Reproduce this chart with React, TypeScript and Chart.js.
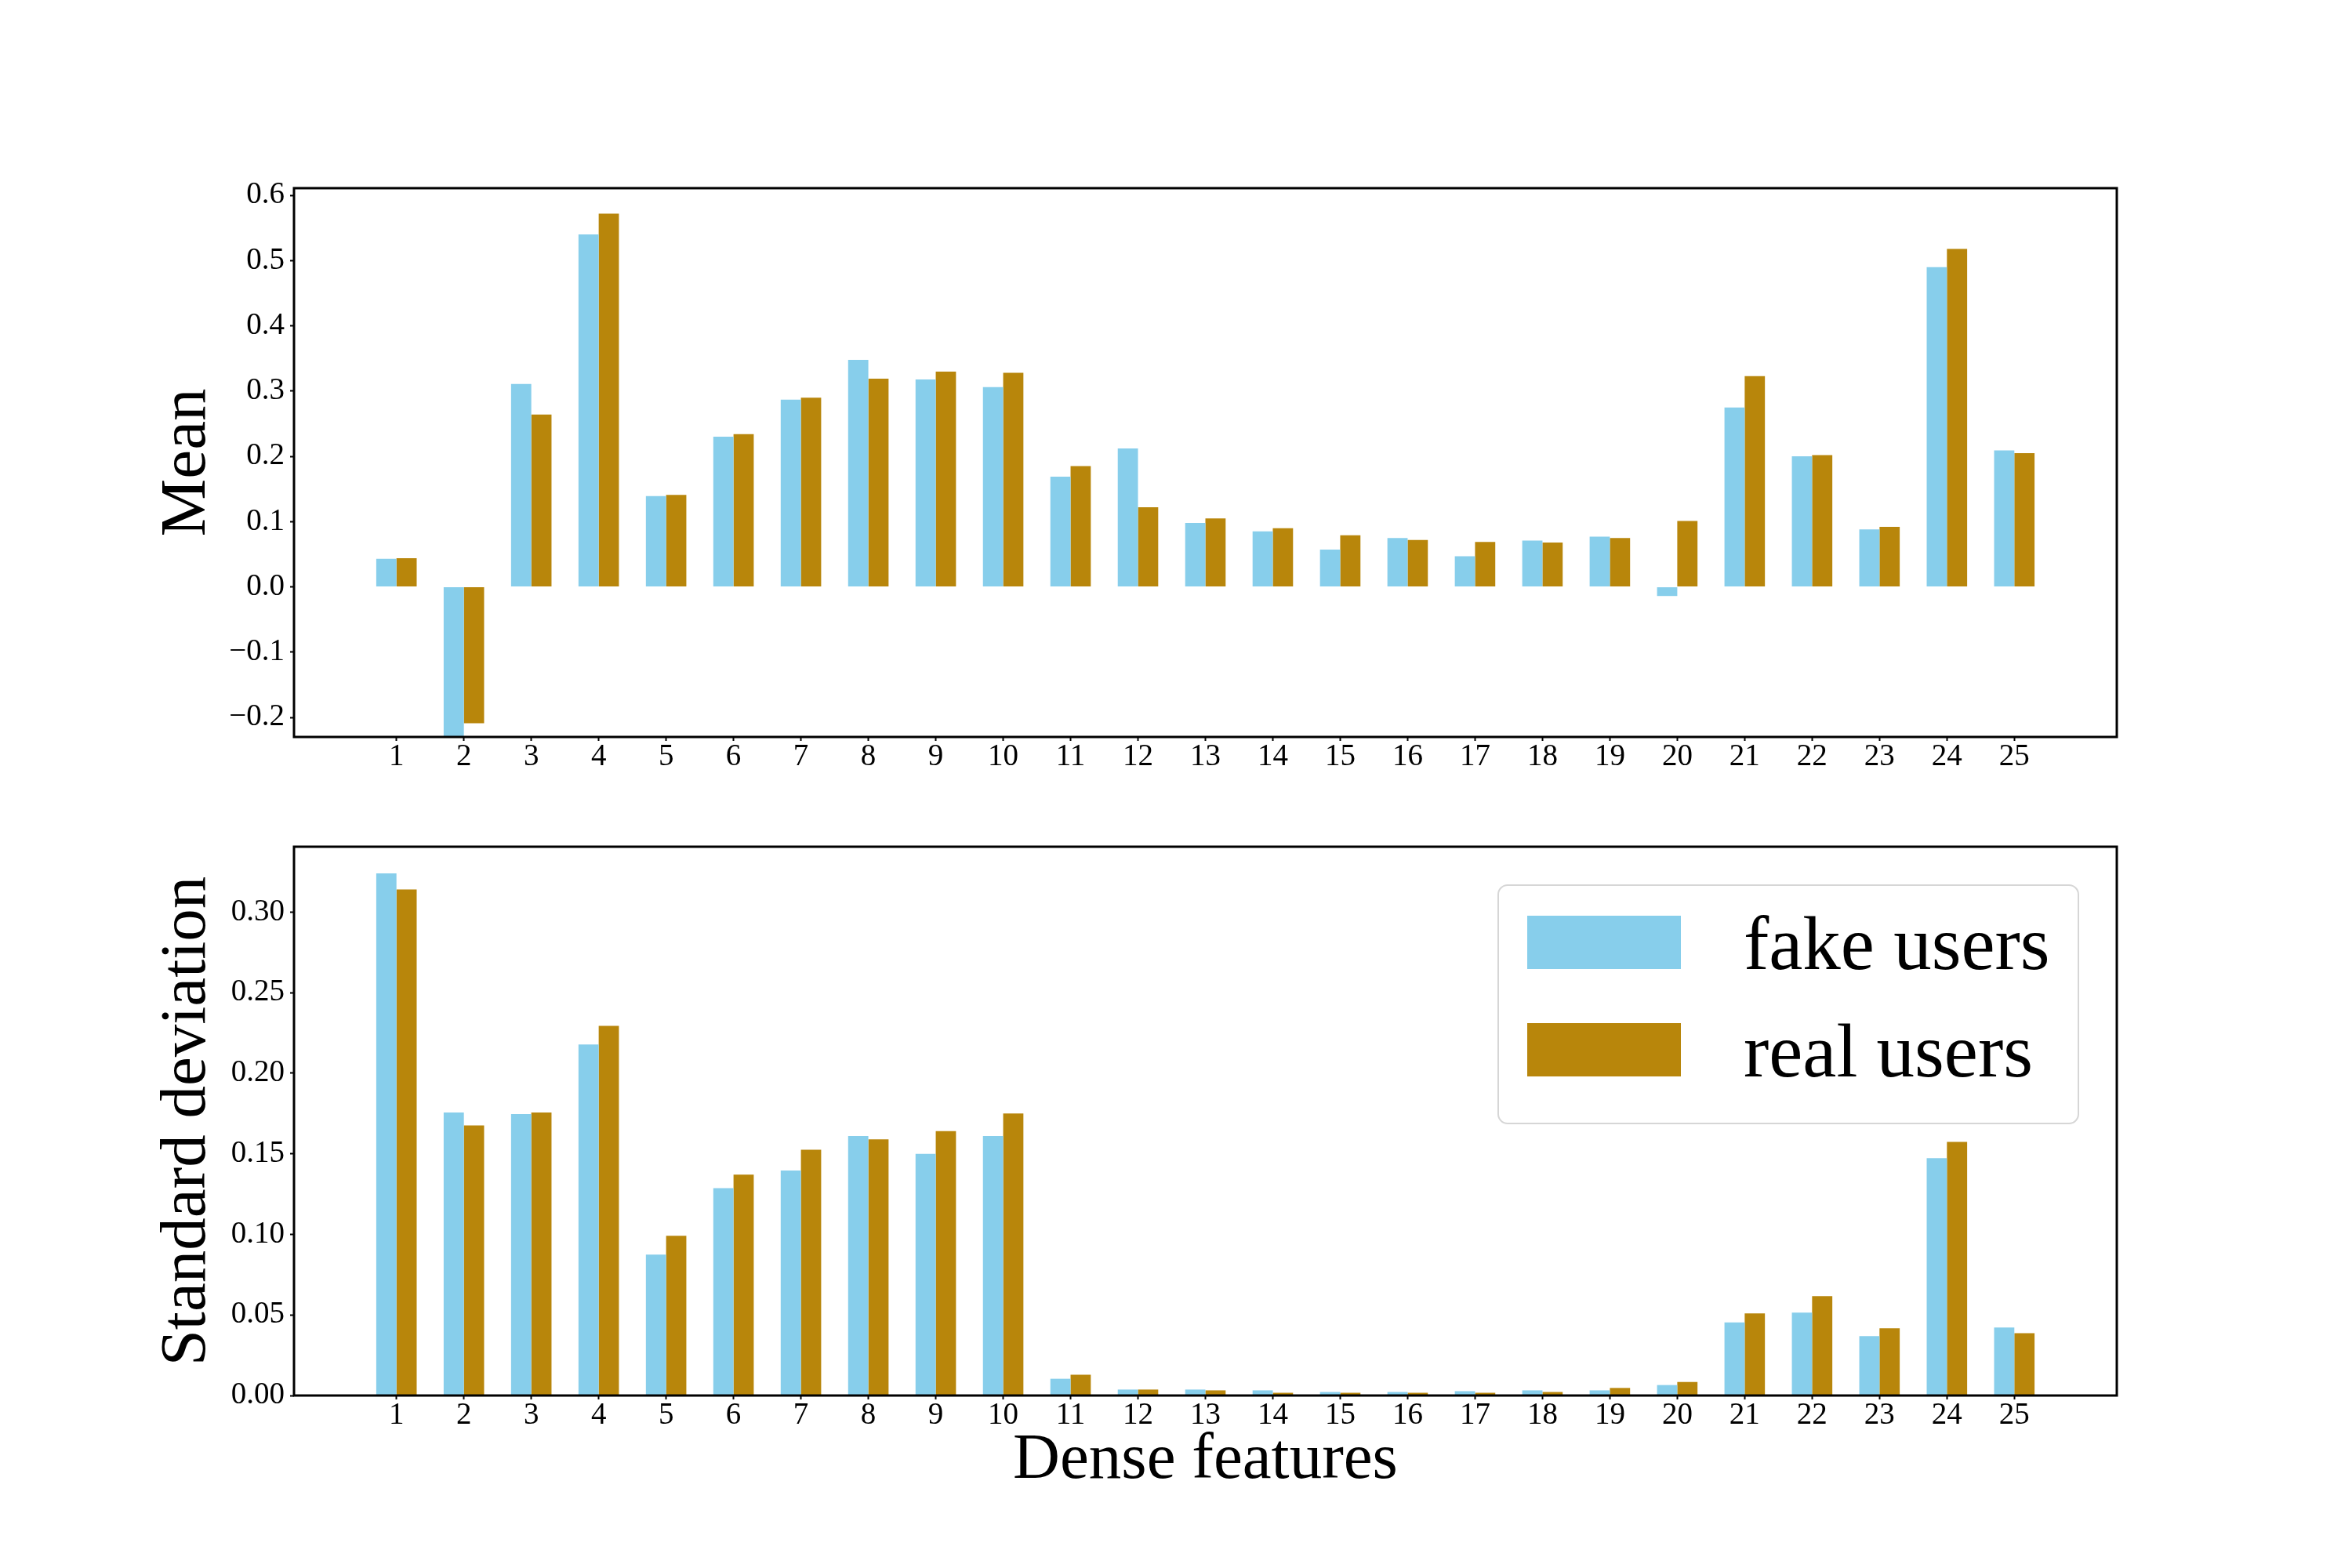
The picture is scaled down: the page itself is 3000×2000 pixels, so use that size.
import { useEffect, useRef } from "react";
import Chart from "chart.js/auto";

// feature ids on the x axis
const features = [
  "1", "2", "3", "4", "5", "6", "7", "8", "9", "10", "11", "12", "13",
  "14", "15", "16", "17", "18", "19", "20", "21", "22", "23", "24", "25",
];

const fakeMean = [
  0.043, -0.24, 0.311, 0.54, 0.139, 0.23, 0.287, 0.348, 0.318, 0.306, 0.169,
  0.212, 0.098, 0.085, 0.057, 0.075, 0.047, 0.071, 0.077, -0.014, 0.275, 0.2,
  0.088, 0.49, 0.209,
];
const realMean = [
  0.044, -0.209, 0.264, 0.572, 0.141, 0.234, 0.29, 0.319, 0.33, 0.328, 0.185,
  0.122, 0.105, 0.09, 0.079, 0.072, 0.069, 0.068, 0.075, 0.101, 0.323, 0.202,
  0.092, 0.518, 0.205,
];

const fakeStd = [
  0.324, 0.1756, 0.1746, 0.2178, 0.0874, 0.1286, 0.1396, 0.161, 0.15, 0.161,
  0.0104, 0.0037, 0.0037, 0.0032, 0.0022, 0.0022, 0.0027, 0.0032, 0.0032,
  0.0065, 0.0454, 0.0514, 0.0368, 0.1473, 0.0422,
];
const realStd = [
  0.314, 0.1676, 0.1756, 0.2294, 0.0991, 0.137, 0.1525, 0.159, 0.164, 0.175,
  0.0129, 0.0037, 0.0032, 0.0017, 0.0017, 0.0017, 0.0017, 0.0022, 0.0047,
  0.0084, 0.0509, 0.0616, 0.0417, 0.1574, 0.0387,
];

const seriesLabels = ["fake users", "real users"];
const seriesColors = ["#87CEEB", "#B8860B"];

const SERIF = "'Liberation Serif', 'Times New Roman', serif";

const framePlugin = {
  id: "frame",
  afterDatasetsDraw(chart: any) {
    const { ctx, chartArea: a } = chart;
    ctx.save();
    ctx.strokeStyle = "#000";
    ctx.lineWidth = 3;
    ctx.strokeRect(a.left, a.top, a.right - a.left, a.bottom - a.top);
    ctx.restore();
  },
};

// matplotlib-like legend box in the upper right of the plot area
const legendBoxPlugin = {
  id: "legendBox",
  afterDraw(chart: any) {
    const { ctx, chartArea: a } = chart;
    const w = 740;
    const h = 304;
    const x = a.right - 49 - w;
    const y = a.top + 49;
    ctx.save();
    ctx.beginPath();
    ctx.roundRect(x, y, w, h, 12);
    ctx.fillStyle = "rgba(255,255,255,0.8)";
    ctx.fill();
    ctx.lineWidth = 2;
    ctx.strokeStyle = "#d6d6d6";
    ctx.stroke();
    ctx.font = `97px ${SERIF}`;
    ctx.textBaseline = "alphabetic";
    ctx.textAlign = "left";
    chart.data.datasets.forEach((ds: any, i: number) => {
      const py = y + 39 + i * 137;
      ctx.fillStyle = ds.backgroundColor;
      ctx.fillRect(x + 37, py, 196, 68);
      ctx.fillStyle = "#000";
      ctx.fillText(ds.label, x + 313, py + 68);
    });
    ctx.restore();
  },
};

type PanelProps = {
  fake: number[];
  real: number[];
  yTitle: string;
  yMin: number;
  yMax: number;
  step: number;
  decimals: number;
  padTop: number;
  xAxisHeight: number;
  xTitle?: string;
  legend?: boolean;
};

function BarPanel(props: PanelProps) {
  const canvasRef = useRef<HTMLCanvasElement | null>(null);

  useEffect(() => {
    if (!canvasRef.current) return;
    const p = props;

    const chart = new Chart(canvasRef.current, {
      type: "bar",
      data: {
        datasets: [p.fake, p.real].map((vals, k) => ({
          label: seriesLabels[k],
          data: features.map((_, i) => ({ x: i + 1, y: vals[i] })),
          backgroundColor: seriesColors[k],
          borderWidth: 0,
          categoryPercentage: 0.6,
          barPercentage: 1,
        })),
      },
      options: {
        animation: false,
        responsive: false,
        devicePixelRatio: 1,
        layout: { padding: { left: 198, right: 300, top: p.padTop, bottom: 0 } },
        plugins: { legend: { display: false }, tooltip: { enabled: false } },
        scales: {
          x: {
            type: "linear",
            offset: false,
            min: 1 - 1.52,
            max: features.length + 1.52,
            afterBuildTicks: (scale: any) => {
              scale.ticks = features.map((_, i) => ({ value: i + 1 }));
            },
            afterFit: (scale: any) => {
              scale.height = p.xAxisHeight;
            },
            border: { display: false },
            grid: {
              offset: false,
              drawOnChartArea: false,
              drawTicks: true,
              tickLength: 5,
              tickWidth: 2,
              tickColor: "#000",
            },
            ticks: {
              autoSkip: false,
              maxRotation: 0,
              padding: 1,
              color: "#000",
              font: { family: SERIF, size: 39, lineHeight: 1 },
              callback: (v: any) => features[Math.round(Number(v)) - 1] ?? "",
            },
            title: {
              display: !!p.xTitle,
              text: p.xTitle ?? "",
              color: "#000",
              font: { family: SERIF, size: 83, lineHeight: 1 },
              padding: { top: 0, bottom: 95 },
            },
          },
          y: {
            min: p.yMin,
            max: p.yMax,
            afterFit: (scale: any) => {
              scale.width = 177;
            },
            border: { display: false },
            grid: {
              drawOnChartArea: false,
              drawTicks: true,
              tickLength: 5,
              tickWidth: 2,
              tickColor: "#000",
            },
            ticks: {
              stepSize: p.step,
              includeBounds: false,
              padding: 7,
              color: "#000",
              font: { family: SERIF, size: 39, lineHeight: 1 },
              callback: (v: any) => {
                const n = Math.abs(Number(v)) < 1e-9 ? 0 : Number(v);
                return n.toFixed(p.decimals).replace("-", "\u2212");
              },
            },
            title: {
              display: true,
              text: p.yTitle,
              color: "#000",
              font: { family: SERIF, size: 83, lineHeight: 1 },
              padding: 0,
            },
          },
        },
      },
      plugins: p.legend ? [framePlugin, legendBoxPlugin] : [framePlugin],
    } as any);

    return () => chart.destroy();
  }, []);

  return (
    <canvas
      ref={canvasRef}
      width={3000}
      height={1000}
      style={{ display: "block", width: 3000, height: 1000 }}
    />
  );
}

export default function App() {
  return (
    <div
      style={{
        position: "absolute",
        left: 0,
        top: 0,
        width: 3000,
        height: 2000,
        background: "#fff",
      }}
    >
      <BarPanel
        fake={fakeMean}
        real={realMean}
        yTitle="Mean"
        yMin={-0.23}
        yMax={0.611}
        step={0.1}
        decimals={1}
        padTop={240}
        xAxisHeight={60}
      />
      <BarPanel
        fake={fakeStd}
        real={realStd}
        yTitle="Standard deviation"
        yMin={0}
        yMax={0.3405}
        step={0.05}
        decimals={2}
        padTop={80}
        xAxisHeight={220}
        xTitle="Dense features"
        legend
      />
    </div>
  );
}
